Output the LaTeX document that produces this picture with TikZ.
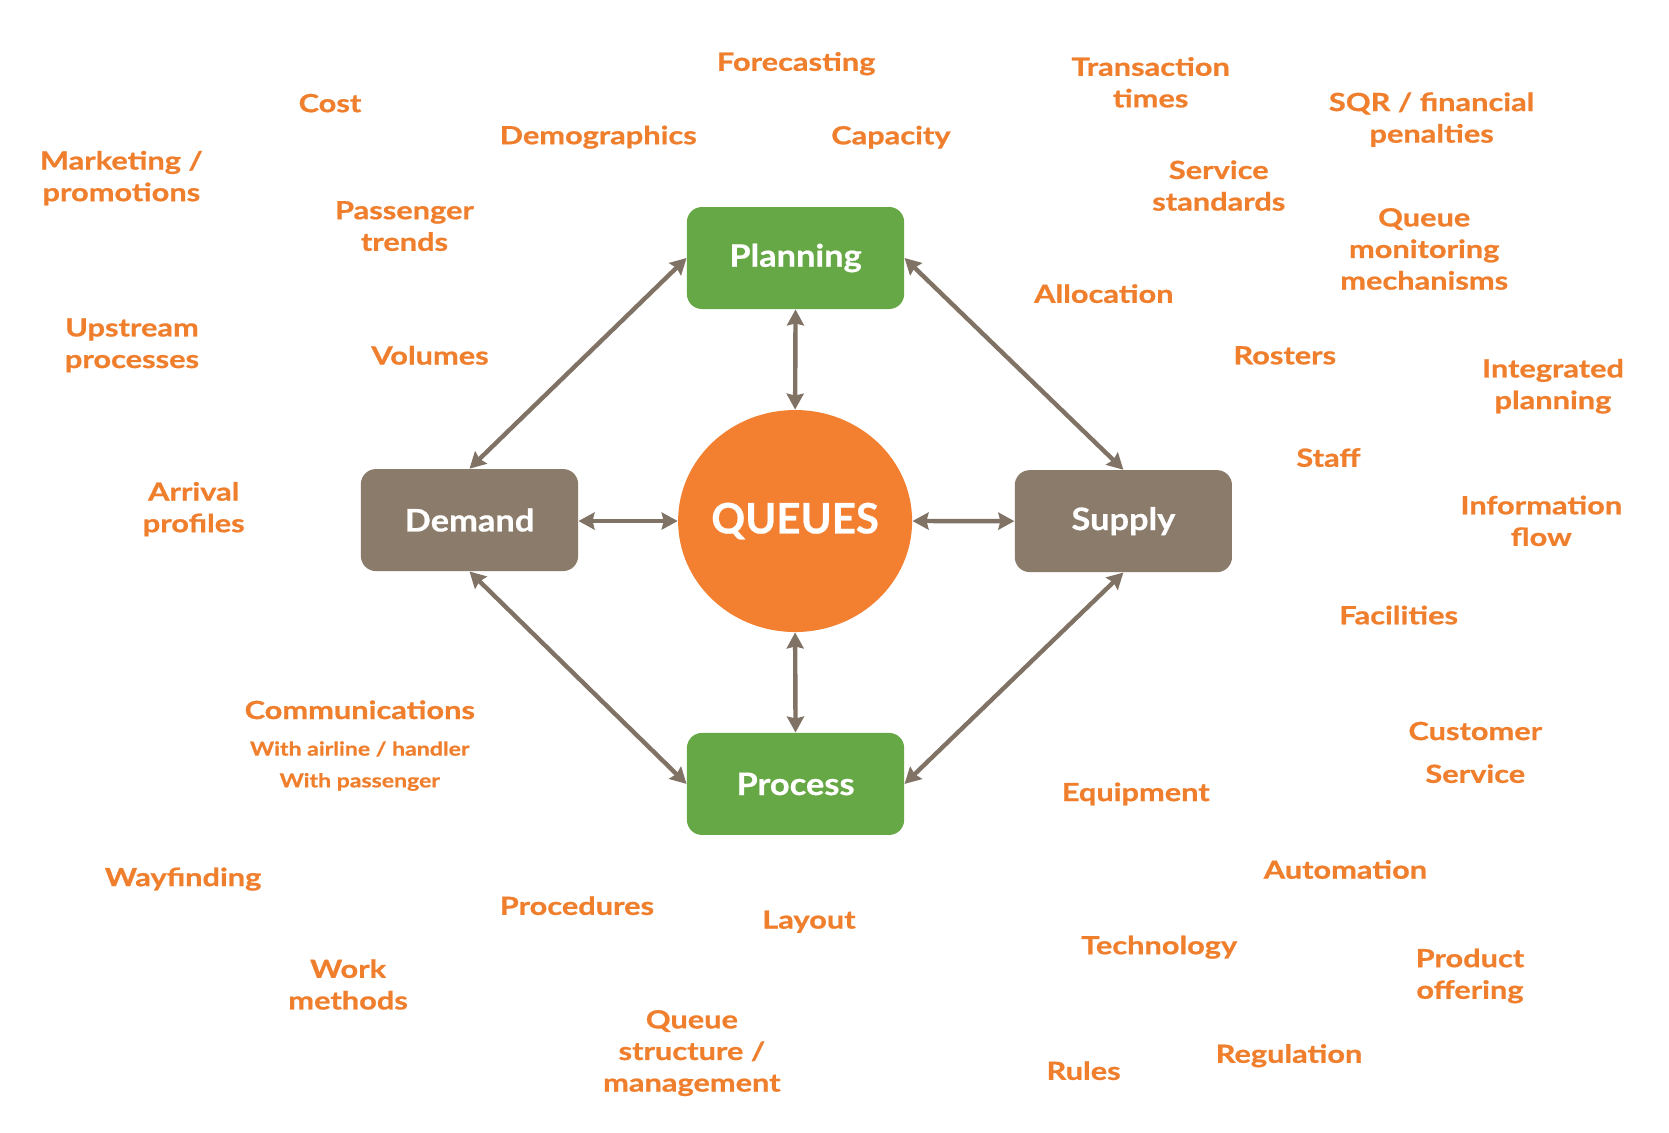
\documentclass[tikz,border=0pt]{standalone}
\usepackage{fontspec}
\setmainfont{Lato}
\newfontfamily\lblfont{Lato}[FakeStretch=1.23,FakeBold=0.8]
\newfontfamily\smlfont{Lato}[FakeStretch=1.2,FakeBold=0.8]
\newfontfamily\boxfont{Lato}[FakeStretch=1.11,FakeBold=0.6]
\newfontfamily\qfont{Lato}[FakeBold=0.6]
\usetikzlibrary{arrows.meta,shapes.geometric}
\definecolor{lblc}{RGB}{240,127,45}
\definecolor{orc}{RGB}{242,128,48}
\definecolor{grc}{RGB}{102,168,69}
\definecolor{brc}{RGB}{138,123,106}
\definecolor{arc}{RGB}{128,115,102}
\tikzset{
  lbl/.style={text=lblc, font=\lblfont\bfseries\fontsize{12.5}{15.8}\selectfont, align=center, inner sep=0pt, yshift=-1pt},
  sml/.style={text=lblc, font=\smlfont\bfseries\fontsize{9.6}{12}\selectfont, align=center, inner sep=0pt, yshift=-0.6pt},
  gbox/.style={rectangle, rounded corners=7.5pt, fill=grc, text=white, minimum width=108.6pt, minimum height=51pt, font=\boxfont\bfseries\fontsize{15.5}{18}\selectfont},
  bbox/.style={rectangle, rounded corners=7.5pt, fill=brc, text=white, minimum width=108.6pt, minimum height=51pt, font=\boxfont\bfseries\fontsize{15.5}{18}\selectfont},
  conn/.style={draw=arc, line width=2.2pt, {Stealth[length=8pt,width=8.5pt,inset=1pt]}-{Stealth[length=8pt,width=8.5pt,inset=1pt]}}
}
\begin{document}
\begin{tikzpicture}[x=0.5322pt,y=-0.5322pt]
\useasboundingbox[fill=white] (0,0) rectangle (1568,1064.4);
% central nodes
\node[ellipse, fill=orc, minimum width=117pt, minimum height=111pt, inner xsep=-20pt, inner ysep=0pt, text=white, font=\qfont\bfseries\fontsize{21}{24}\selectfont] (q) at (747,489.5) {QUEUES};
\node[gbox] (plan) at (747.4,242.4) {Planning};
\node[gbox] (proc) at (747.4,736.5) {Process};
\node[bbox] (dem) at (441.1,488.6) {Demand};
\node[bbox] (sup) at (1055.4,489.6) {Supply};
% connectors
\draw[conn] (plan.west) -- (dem.north);
\draw[conn] (plan.east) -- (sup.north);
\draw[conn] (dem.south) -- (proc.west);
\draw[conn] (sup.south) -- (proc.east);
\draw[conn] (plan.south) -- (q.north);
\draw[conn] (q.south) -- (proc.north);
\draw[conn] (dem.east |- q.west) -- (q.west);
\draw[conn] (q.east) -- (sup.west);
% labels
\node[lbl] (l1) at (748,58) {Forecasting};
\node[lbl] (l2) at (310,95) {Cost};
\node[lbl] (l3) at (562,127) {Demographics};
\node[lbl] (l4) at (837,127) {Capacity};
\node[lbl] (l5) at (1081,75.5) {Transaction\\times};
\node[lbl] (l6) at (1345,110.5) {SQR / financial\\penalties};
\node[lbl] (l7) at (114,165.5) {Marketing /\\promotions};
\node[lbl] (l8) at (380,210.5) {Passenger\\trends};
\node[lbl] (l9) at (1145,172.5) {Service\\standards};
\node[lbl] (l10) at (1338,232) {Queue\\monitoring\\mechanisms};
\node[lbl] (l11) at (1037,274) {Allocation};
\node[lbl] (l12) at (124,322.5) {Upstream\\processes};
\node[lbl] (l13) at (404,332) {Volumes};
\node[lbl] (l14) at (1207,332) {Rosters};
\node[lbl] (l15) at (1459,361) {Integrated\\planning};
\node[lbl] (l16) at (1248,428) {Staff};
\node[lbl] (l17) at (182,476.5) {Arrival\\profiles};
\node[lbl] (l18) at (1448,487.5) {Information\\flow};
\node[lbl] (l19) at (1314,576) {Facilities};
\node[lbl] (l20) at (338,665) {Communications};
\node[sml] (l20a) at (338,702.5) {With airline / handler};
\node[sml] (l20b) at (338,733.5) {With passenger};
\node[lbl] (l21) at (1386,705) {Customer\\[5.6pt]Service};
\node[lbl] (l22) at (1067,744) {Equipment};
\node[lbl] (l23) at (1264,815) {Automation};
\node[lbl] (l24) at (172,824) {Wayfinding};
\node[lbl] (l25) at (542,849) {Procedures};
\node[lbl] (l26) at (760,864) {Layout};
\node[lbl] (l27) at (1089,888) {Technology};
\node[lbl] (l28) at (327,923) {Work\\methods};
\node[lbl] (l29) at (1381,915) {Product\\offering};
\node[lbl] (l30) at (650,987.5) {Queue\\structure /\\management};
\node[lbl] (l31) at (1018,1004) {Rules};
\node[lbl] (l32) at (1211,990) {Regulation};
\end{tikzpicture}
\end{document}
